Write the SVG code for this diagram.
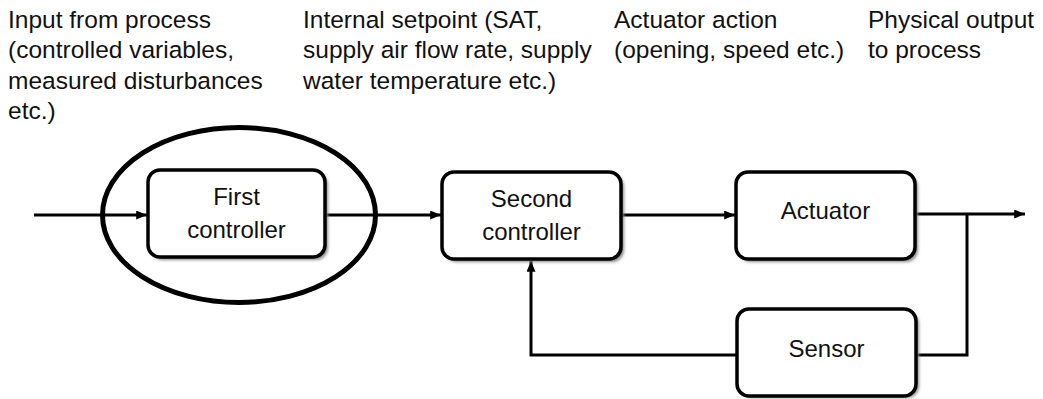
<svg xmlns="http://www.w3.org/2000/svg" width="1043" height="399" viewBox="0 0 1043 399">
<style>
.lbl{font-family:"Liberation Sans",Arial,sans-serif;font-size:24.5px;fill:#111}
.bt{font-family:"Liberation Sans",Arial,sans-serif;font-size:24px;fill:#111;text-anchor:middle}
.box{fill:#fff;stroke:#000;stroke-width:3.5}
.sh{fill:#8a8a8a;filter:url(#blur)}
.con{fill:none;stroke:#000;stroke-width:3}
</style>
<defs>
<filter id="blur" x="-10%" y="-10%" width="120%" height="130%"><feGaussianBlur stdDeviation="1.5"/></filter>
<marker id="arr" viewBox="0 0 12 10" refX="12" refY="5" markerWidth="11" markerHeight="9" markerUnits="userSpaceOnUse" orient="auto">
<path d="M0,0 L12,5 L0,10 Z" fill="#000"/>
</marker>
</defs>
<rect width="1043" height="399" fill="#fff"/>
<g id="labels">
<text class="lbl" x="8" y="28">Input from process</text>
<text class="lbl" x="8" y="58">(controlled variables,</text>
<text class="lbl" x="8" y="89">measured disturbances</text>
<text class="lbl" x="8" y="119">etc.)</text>
<text class="lbl" x="303" y="28">Internal setpoint (SAT,</text>
<text class="lbl" x="303" y="58">supply air flow rate, supply</text>
<text class="lbl" x="303" y="89">water temperature etc.)</text>
<text class="lbl" x="614" y="28">Actuator action</text>
<text class="lbl" x="614" y="58">(opening, speed etc.)</text>
<text class="lbl" x="868" y="28">Physical output</text>
<text class="lbl" x="868" y="58">to process</text>
</g>
<g id="connectors">
<path class="con" d="M34,215 H147" marker-end="url(#arr)"/>
<path class="con" d="M325,215 H441" marker-end="url(#arr)"/>
<path class="con" d="M621,215 H735" marker-end="url(#arr)"/>
<path class="con" d="M915,214 H1025" marker-end="url(#arr)"/>
<path class="con" d="M967,214 V355 H916"/>
<path class="con" d="M737,355 H531 V261" marker-end="url(#arr)"/>
</g>
<g id="first-controller">
<rect class="sh" x="151" y="173" width="177" height="87" rx="12"/>
<rect class="box" x="148" y="170" width="177" height="87" rx="12"/>
<text class="bt" x="236.5" y="205">First</text>
<text class="bt" x="236.5" y="238">controller</text>
</g>
<g id="focus-ellipse">
<ellipse cx="239" cy="215" rx="136.5" ry="87.5" fill="none" stroke="#000" stroke-width="5"/>
</g>
<g id="second-controller">
<rect class="sh" x="445" y="175" width="179" height="87" rx="12"/>
<rect class="box" x="442" y="172" width="179" height="87" rx="12"/>
<text class="bt" x="531.5" y="207">Second</text>
<text class="bt" x="531.5" y="240">controller</text>
</g>
<g id="actuator">
<rect class="sh" x="739" y="175" width="179" height="87" rx="12"/>
<rect class="box" x="736" y="172" width="179" height="87" rx="12"/>
<text class="bt" x="825.5" y="219">Actuator</text>
</g>
<g id="sensor">
<rect class="sh" x="740" y="312" width="179" height="86" rx="12"/>
<rect class="box" x="737" y="309" width="179" height="87" rx="12"/>
<text class="bt" x="826.5" y="357">Sensor</text>
</g>
</svg>
